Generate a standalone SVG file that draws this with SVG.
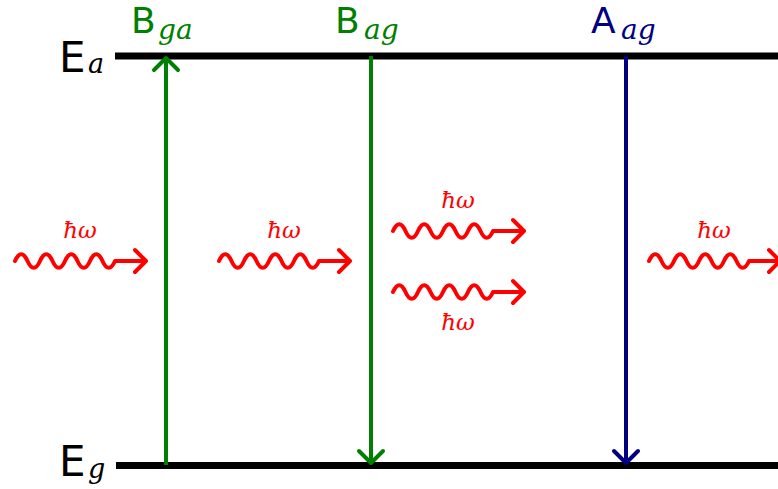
<svg xmlns="http://www.w3.org/2000/svg" width="778" height="489" viewBox="0 0 778 489">
<style>
.lvl{stroke:#000;stroke-width:7;fill:none}
.tr{stroke-width:4;fill:none;stroke-linecap:butt}
.hd{stroke-width:4;fill:none;stroke-linecap:round;stroke-linejoin:round}
.g{stroke:#008000}
.b{stroke:#000080}
.wv{stroke:#ff0000;stroke-width:4;fill:none;stroke-linecap:round;stroke-linejoin:round}
.big{font-family:"DejaVu Sans",sans-serif}
.sub{font-family:"DejaVu Serif",serif;font-style:italic}
.hw{font-family:"DejaVu Serif",serif;font-style:italic;font-size:23px;fill:#ff0000;text-anchor:middle}
</style>
<defs>
<path id="wave" d="M0 0 c4 -9 8.5 -9 12.5 0 s8.5 9 12.5 0 s8.5 -9 12.5 0 s8.5 9 12.5 0 s8.5 -9 12.5 0 s8.5 9 12.5 0 s8.5 -9 12.5 0 s8.5 9 12.5 0 l31 0 M120 -11 l11 11 l-11 11"/>
</defs>
<g id="levels">
<line id="Ea-line" class="lvl" x1="115" y1="56" x2="778" y2="56"/>
<line id="Eg-line" class="lvl" x1="116" y1="465.5" x2="778" y2="465.5"/>
</g>
<g id="labels">
<g id="Ea"><text class="big" x="59" y="72" font-size="42">E</text><text class="sub" x="88" y="73" font-size="27">a</text></g>
<g id="Eg"><text class="big" x="59" y="476" font-size="42">E</text><text class="sub" x="88" y="478" font-size="27">g</text></g>
<g id="Bga" fill="#008000"><text class="big" x="131" y="33" font-size="36">B</text><text class="sub" x="158" y="39" font-size="28">ga</text></g>
<g id="Bag" fill="#008000"><text class="big" x="335" y="33" font-size="36">B</text><text class="sub" x="364" y="39" font-size="28">ag</text></g>
<g id="Aag" fill="#000080"><text class="big" x="591" y="33" font-size="36">A</text><text class="sub" x="621" y="39" font-size="28">ag</text></g>
</g>
<g id="connectors">
<g id="Bga-arrow"><line class="tr g" x1="166" y1="465" x2="166" y2="59"/><path class="hd g" d="M154 70 L166 58 L178 70"/></g>
<g id="Bag-arrow"><line class="tr g" x1="371" y1="56" x2="371" y2="462"/><path class="hd g" d="M359 451 L371 463 L383 451"/></g>
<g id="Aag-arrow"><line class="tr b" x1="626" y1="56" x2="626" y2="462"/><path class="hd b" d="M614 451 L626 463 L638 451"/></g>
</g>
<g id="photons">
<g id="photon1"><use href="#wave" class="wv" x="15" y="261"/><text class="hw" x="80" y="238">ħω</text></g>
<g id="photon2"><use href="#wave" class="wv" x="219" y="261"/><text class="hw" x="284" y="238">ħω</text></g>
<g id="photon3"><use href="#wave" class="wv" x="393" y="231"/><text class="hw" x="458" y="208">ħω</text></g>
<g id="photon4"><use href="#wave" class="wv" x="393" y="292"/><text class="hw" x="458" y="330">ħω</text></g>
<g id="photon5"><use href="#wave" class="wv" x="649" y="261"/><text class="hw" x="714" y="238">ħω</text></g>
</g>
</svg>
